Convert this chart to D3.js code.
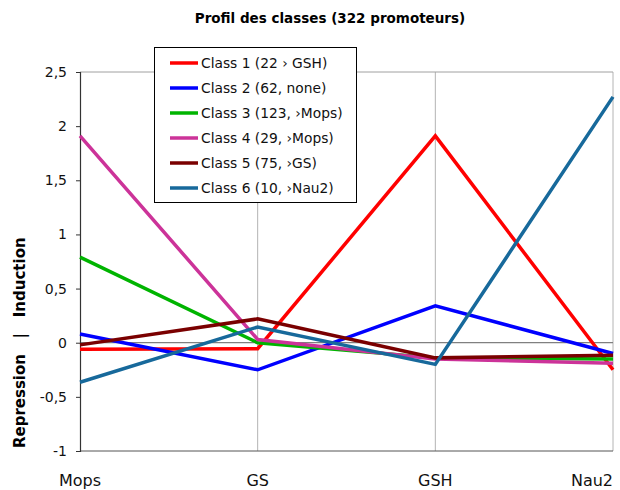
<!DOCTYPE html>
<html>
<head>
<meta charset="utf-8">
<script src="https://cdn.jsdelivr.net/npm/d3@7"></script>
<style>
  html, body { margin: 0; padding: 0; background: #fff; }
  svg { display: block; font-family: Verdana, "DejaVu Sans", sans-serif; }
</style>
</head>
<body>
<svg id="chart" width="620" height="490"></svg>
<script>
// Conditions (x axis)
const conditions = ["Mops", "GS", "GSH", "Nau2"];

// Class names shown in the legend
const classNames = [
  "Class 1 (22 \u203A GSH)",
  "Class 2 (62, none)",
  "Class 3 (123, \u203AMops)",
  "Class 4 (29, \u203AMops)",
  "Class 5 (75, \u203AGS)",
  "Class 6 (10, \u203ANau2)"
];

// Mean profile of each class, one value per condition
const class1 = [-0.06, -0.055, 1.91, -0.25];
const class2 = [0.08, -0.25, 0.34, -0.10];
const class3 = [0.79, 0.00, -0.14, -0.15];
const class4 = [1.91, 0.03, -0.15, -0.19];
const class5 = [-0.02, 0.22, -0.14, -0.115];
const class6 = [-0.365, 0.145, -0.20, 2.27];

const classColors = ["#ff0000", "#0000ff", "#00b400", "#cc3399", "#7a0000", "#17699b"];

// Y axis ticks (French decimal comma)
const yTicks = [-1, -0.5, 0, 0.5, 1, 1.5, 2, 2.5];

const series = [class1, class2, class3, class4, class5, class6].map((values, i) => ({
  name: classNames[i],
  color: classColors[i],
  values
}));

const svg = d3.select("#chart");
const plotLeft = 80, plotRight = 613, plotTop = 72, plotBottom = 451;

const x = d3.scalePoint().domain(conditions).range([plotLeft, plotRight]);
const y = d3.scaleLinear().domain([-1, 2.5]).range([plotBottom, plotTop]);
const fmt = v => String(v).replace(".", ",");

// Title
svg.append("text")
  .attr("x", 330).attr("y", 23)
  .attr("text-anchor", "middle")
  .attr("font-weight", "bold")
  .attr("font-size", 13.5)
  .text("Profil des classes (322 promoteurs)");

// Vertical grid lines at each condition except the first
svg.append("g").selectAll("line")
  .data(conditions.slice(1))
  .join("line")
  .attr("x1", d => x(d)).attr("x2", d => x(d))
  .attr("y1", plotTop).attr("y2", plotBottom)
  .attr("stroke", "#b4b4b4").attr("stroke-width", 1);

// Top border of the plot area
svg.append("line")
  .attr("x1", plotLeft).attr("x2", plotRight)
  .attr("y1", y(2.5)).attr("y2", y(2.5))
  .attr("stroke", "#a0a0a0");

// Zero line
svg.append("line")
  .attr("x1", plotLeft).attr("x2", plotRight)
  .attr("y1", y(0)).attr("y2", y(0))
  .attr("stroke", "#808080").attr("stroke-width", 1.2);

// Bottom axis line
svg.append("line")
  .attr("x1", plotLeft).attr("x2", plotRight)
  .attr("y1", plotBottom).attr("y2", plotBottom)
  .attr("stroke", "#555");

// Left axis
const yAxis = svg.append("g")
  .attr("transform", `translate(${plotLeft},0)`)
  .call(d3.axisLeft(y).tickValues(yTicks).tickFormat(fmt).tickSize(4).tickPadding(9));
yAxis.select(".domain").attr("stroke", "#333").attr("stroke-width", 1.2);
yAxis.selectAll(".tick line").attr("stroke", "#333");
yAxis.selectAll("text")
  .attr("font-family", "Verdana, 'DejaVu Sans', sans-serif")
  .attr("font-size", 14).attr("fill", "#111");

// Y axis title
svg.append("text")
  .attr("transform", `translate(25,${y(0)}) rotate(-90)`)
  .attr("text-anchor", "middle")
  .attr("font-weight", "bold")
  .attr("font-size", 15)
  .attr("xml:space", "preserve")
  .text("Repression   |   Induction");

// Category labels
svg.append("g").selectAll("text")
  .data(conditions)
  .join("text")
  .attr("x", (d, i) => i === conditions.length - 1 ? plotRight : x(d))
  .attr("y", 486)
  .attr("text-anchor", (d, i) => i === conditions.length - 1 ? "end" : "middle")
  .attr("font-size", 16)
  .attr("fill", "#111")
  .text(d => d);

// Profile lines
const line = d3.line()
  .x((d, i) => x(conditions[i]))
  .y(d => y(d));

svg.append("g").selectAll("path")
  .data(series)
  .join("path")
  .attr("d", d => line(d.values))
  .attr("fill", "none")
  .attr("stroke", d => d.color)
  .attr("stroke-width", 3.5)
  .attr("stroke-linejoin", "miter");

// Legend
const legend = svg.append("g");
legend.append("rect")
  .attr("x", 154.5).attr("y", 47.5)
  .attr("width", 202).attr("height", 155)
  .attr("fill", "#fff").attr("stroke", "#000");

const rows = legend.selectAll("g.row")
  .data(series)
  .join("g")
  .attr("class", "row")
  .attr("transform", (d, i) => `translate(0,${63 + i * 25})`);
rows.append("line")
  .attr("x1", 170).attr("x2", 198)
  .attr("stroke", d => d.color).attr("stroke-width", 3.5);
rows.append("text")
  .attr("x", 201).attr("y", 5)
  .attr("font-size", 13.8)
  .attr("fill", "#111")
  .text(d => d.name);
</script>
</body>
</html>
